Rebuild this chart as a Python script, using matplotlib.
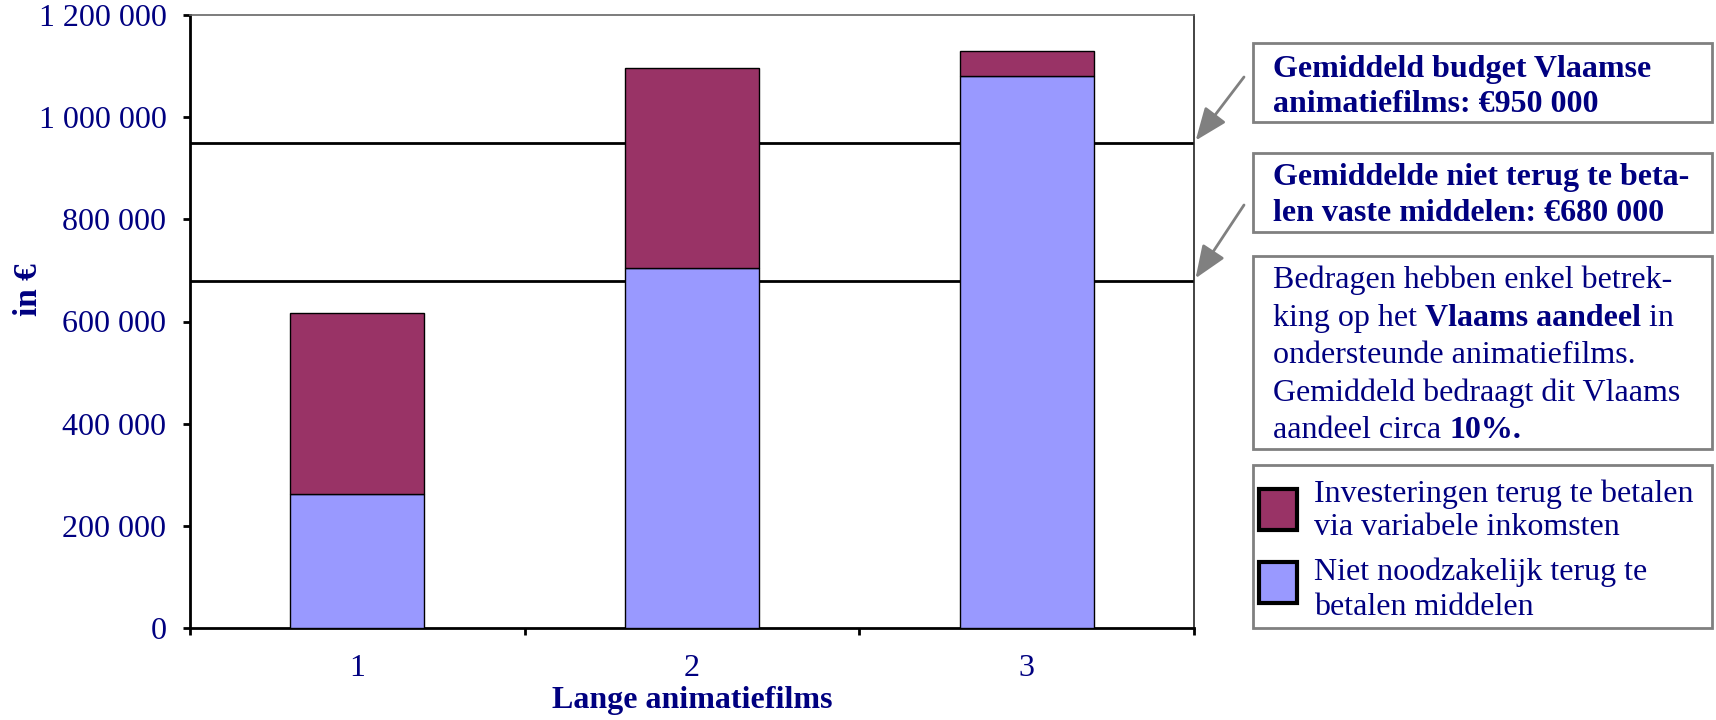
import matplotlib
matplotlib.use('Agg')
import matplotlib.pyplot as plt
from matplotlib.patches import Rectangle
import numpy as np

plt.rcParams['font.family'] = ['Liberation Serif', 'DejaVu Serif']

# data
films = ['1', '2', '3']
niet_terug = [263000, 705000, 1080000]      # blue, bottom
investering = [353000, 392000, 50000]       # maroon, top
gem_budget = 950000
gem_vast = 680000
yticks = [0, 200000, 400000, 600000, 800000, 1000000, 1200000]

navy = '#000080'
maroon = '#993366'
lilac = '#9999FF'
grey = '#808080'
W, H = 1716, 720
FS = 23

def fx(x):
    return x / W

def fy(y):
    return 1 - y / H

fig = plt.figure(figsize=(17.16, 7.2), dpi=100)
ax = fig.add_axes([fx(190), fy(628), fx(1194) - fx(190), fy(15) - fy(628)])

x = np.arange(1, len(films) + 1)
b1 = ax.bar(x, niet_terug, width=0.4, color=lilac, edgecolor='black', lw=1, zorder=3)
b2 = ax.bar(x, investering, width=0.4, bottom=niet_terug, color=maroon,
            edgecolor='black', lw=1, zorder=3)
ax.axhline(gem_budget, color='black', lw=2, zorder=1)
ax.axhline(gem_vast, color='black', lw=2, zorder=1)

ax.set_xlim(0.5, 3.5)
ax.set_ylim(0, 1200000)
ax.set_yticks(yticks)
ax.set_yticklabels([f'{v:,}'.replace(',', ' ') for v in yticks])
ax.set_xticks([0.5, 1.5, 2.5, 3.5])
ax.set_xticklabels([])
ax.set_xticks(x, minor=True)
ax.set_xticklabels(films, minor=True)
ax.tick_params(axis='y', direction='out', length=5, width=2, pad=12,
               labelsize=FS, labelcolor=navy)
ax.tick_params(axis='x', which='major', direction='out', length=5, width=2)
ax.tick_params(axis='x', which='minor', length=0, pad=19, labelsize=FS,
               labelcolor=navy)
for s in ['left', 'bottom']:
    ax.spines[s].set_linewidth(2)
ax.spines['top'].set_linewidth(1.2)
ax.spines['top'].set_color('#666666')
ax.spines['right'].set_linewidth(1.2)
ax.spines['right'].set_color('#222222')

ax.set_xlabel('Lange animatiefilms', fontsize=FS, fontweight='bold', color=navy,
              labelpad=2)
ax.set_ylabel('in €', fontsize=FS + 1, fontweight='bold', color=navy)
ax.yaxis.set_label_coords((44 - 190) / (1194 - 190), (628 - 290) / (628 - 15))

# boxes on the right
def box(y0, y1):
    fig.add_artist(Rectangle((fx(1253), fy(y1)), fx(1712) - fx(1253), fy(y0) - fy(y1),
                             transform=fig.transFigure, fill=False,
                             edgecolor=grey, lw=2))

box(43, 122)
box(153, 232)
box(256, 449)
box(465, 628)

fig.canvas.draw()
renderer = fig.canvas.get_renderer()

def line(xp, yp, parts, size=FS):
    # write a line made of (text, bold) parts one after the other
    cur = fx(xp)
    for txt, bold in parts:
        t = fig.text(cur, fy(yp), txt, fontsize=size, color=navy,
                     fontweight='bold' if bold else 'normal', va='baseline', ha='left')
        ext = t.get_window_extent(renderer)
        cur = fig.transFigure.inverted().transform((ext.x1, ext.y0))[0]

line(1273, 77, [('Gemiddeld budget Vlaamse', True)])
line(1273, 112, [('animatiefilms: €950 000', True)])
line(1273, 185, [('Gemiddelde niet terug te beta-', True)])
line(1273, 221, [('len vaste middelen: €680 000', True)])

line(1273, 288, [('Bedragen hebben enkel betrek-', False)])
line(1273, 326, [('king op het ', False), ('Vlaams aandeel', True), (' in', False)])
line(1273, 363, [('ondersteunde animatiefilms.', False)])
line(1273, 401, [('Gemiddeld bedraagt dit Vlaams', False)])
line(1273, 438, [('aandeel circa ', False), ('10%.', True)])

# legend
fig.add_artist(Rectangle((fx(1259), fy(530)), fx(1297) - fx(1259), fy(489) - fy(530),
                         transform=fig.transFigure, facecolor=b2[0].get_facecolor(),
                         edgecolor='black', lw=3))
fig.add_artist(Rectangle((fx(1259), fy(603)), fx(1297) - fx(1259), fy(562) - fy(603),
                         transform=fig.transFigure, facecolor=b1[0].get_facecolor(),
                         edgecolor='black', lw=3))
line(1314, 502, [('Investeringen terug te betalen', False)])
line(1314, 535, [('via variabele inkomsten', False)])
line(1314, 580, [('Niet noodzakelijk terug te', False)])
line(1314, 615, [('betalen middelen', False)])

# arrows
for val, y0 in [(gem_budget, 77), (gem_vast, 205)]:
    ax.annotate('', xy=(3.5, val), xycoords='data',
                xytext=(fx(1244), fy(y0)), textcoords='figure fraction',
                arrowprops=dict(arrowstyle='-|>,head_length=0.5,head_width=0.2',
                                color=grey, lw=2,
                                mutation_scale=40, shrinkA=0, shrinkB=2),
                annotation_clip=False)

fig.savefig('out.png', dpi=100)
